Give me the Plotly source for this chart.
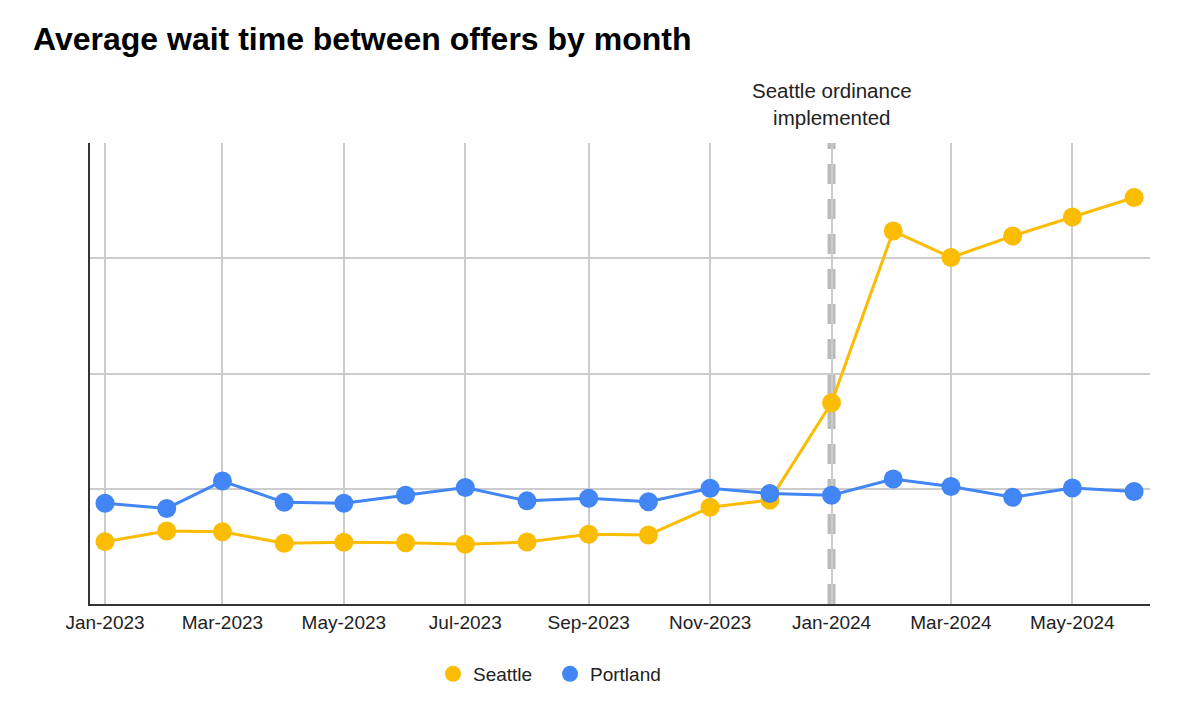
import plotly.graph_objects as go

months = ["2023-01-01", "2023-02-01", "2023-03-01", "2023-04-01", "2023-05-01", "2023-06-01",
          "2023-07-01", "2023-08-01", "2023-09-01", "2023-10-01", "2023-11-01", "2023-12-01",
          "2024-01-01", "2024-02-01", "2024-03-01", "2024-04-01", "2024-05-01", "2024-06-01"]
seattle = [5.41, 6.33, 6.27, 5.27, 5.35, 5.32, 5.18, 5.38, 6.05, 5.99, 8.39, 9.02,
           17.46, 32.36, 30.07, 31.93, 33.58, 35.27]
portland = [8.74, 8.29, 10.67, 8.82, 8.74, 9.43, 10.11, 8.95, 9.17, 8.88, 10.04, 9.59,
            9.43, 10.85, 10.20, 9.26, 10.07, 9.76]
event_date = "2024-01-01"
event_label = "Seattle ordinance<br>implemented"
series_names = ["Seattle", "Portland"]
colors = ["#FBBC04", "#4285F4"]

FONT = "Liberation Sans, Arial, Helvetica, sans-serif"
W, H = 1192, 702   # page body has an 8px margin

fig = go.Figure()
for name, vals, col in zip(series_names, [seattle, portland], colors):
    fig.add_trace(go.Scatter(x=months, y=vals, name=name, mode="lines+markers",
                             line=dict(color=col, width=3),
                             marker=dict(color=col, size=19),
                             showlegend=False, hoverinfo="x+y+name"))
# legend-only entries (markers only)
for name, col in zip(series_names, colors):
    fig.add_trace(go.Scatter(x=[None], y=[None], name=name, mode="markers",
                             marker=dict(color=col, size=19), showlegend=True))

fig.add_shape(type="line", xref="x", yref="paper", x0=event_date, x1=event_date, y0=0, y1=1,
              line=dict(color="#BBBBBB", width=8, dash="20px,15px"), layer="between")
fig.add_annotation(x=event_date, xref="x", y=1, yref="paper", yanchor="bottom", yshift=12,
                   text=event_label, showarrow=False, align="center",
                   font=dict(family=FONT, size=20.5, color="#222222"))

fig.update_layout(
    width=W, height=H,
    paper_bgcolor="white", plot_bgcolor="white",
    margin=dict(l=82, r=50, t=135, b=106),
    title=dict(text="<b>Average wait time between offers by month</b>",
               x=25/W, xref="container", xanchor="left",
               y=1-31/H, yref="container", yanchor="middle",
               font=dict(family=FONT, size=32, color="#000000")),
    font=dict(family=FONT, size=19, color="#222222"),
    legend=dict(orientation="h", x=425/W, xref="container", xanchor="left",
                y=1-666/H, yref="container", yanchor="middle",
                font=dict(family=FONT, size=19, color="#222222"),
                entrywidth=72, entrywidthmode="pixels"),
    xaxis=dict(type="date", range=["2022-12-24 11:00", "2024-06-09 00:00"],
               tick0="2023-01-01", dtick="M2", tickformat="%b-%Y",
               showgrid=True, gridcolor="#CCCCCC", gridwidth=1.5,
               showline=True, linecolor="#333333", linewidth=2,
               ticks="", tickfont=dict(family=FONT, size=19, color="#222222")),
    yaxis=dict(range=[0, 40], dtick=10, showticklabels=False, ticks="",
               showgrid=True, gridcolor="#CCCCCC", gridwidth=1.5,
               zeroline=False, showline=True, linecolor="#333333", linewidth=2),
)

fig.write_html("out.html")
